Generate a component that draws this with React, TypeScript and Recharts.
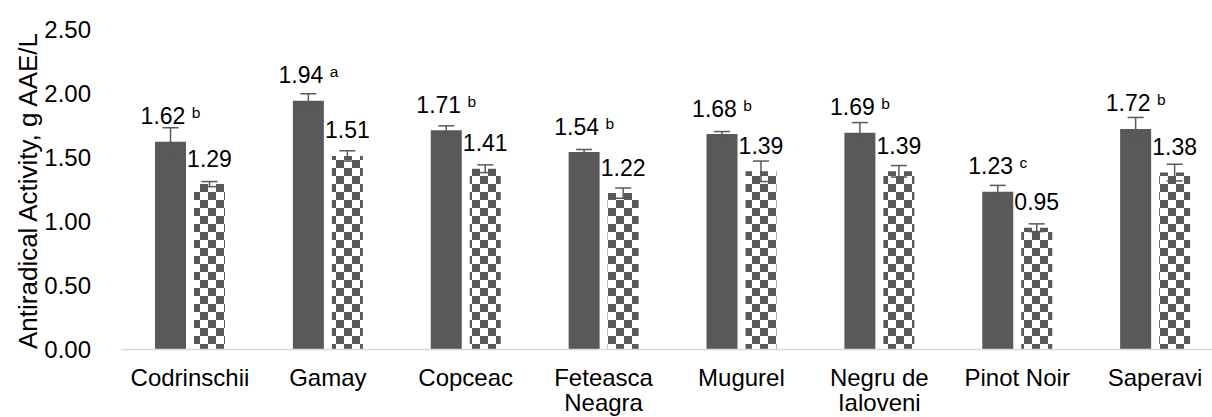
import React from "react";
import { BarChart, Bar, XAxis, YAxis, ErrorBar, LabelList } from "recharts";

const categories = ["Codrinschii", "Gamay", "Copceac", "Feteasca Neagra", "Mugurel", "Negru de Ialoveni", "Pinot Noir", "Saperavi"];
const solidValues = [1.62, 1.94, 1.71, 1.54, 1.68, 1.69, 1.23, 1.72];
const solidErrors = [0.11, 0.055, 0.035, 0.02, 0.02, 0.08, 0.05, 0.09];
const letters = ["b", "a", "b", "b", "b", "b", "c", "b"];
const checkValues = [1.29, 1.51, 1.41, 1.22, 1.39, 1.39, 0.95, 1.38];
const checkErrors = [0.02, 0.04, 0.03, 0.04, 0.08, 0.045, 0.03, 0.065];
const yTicks = [0, 0.5, 1, 1.5, 2, 2.5];
const yTitle = "Antiradical Activity, g AAE/L";

const data = categories.map((name, i) => ({
  name,
  solid: solidValues[i],
  solidErr: solidErrors[i],
  letter: letters[i],
  check: checkValues[i],
  checkErr: checkErrors[i],
}));

const FONT = '"Liberation Sans", Arial, sans-serif';
const GRAY = "#595959";
const CAT_FONT = 24;

let measureCtx: CanvasRenderingContext2D | null = null;
function measure(s: string): number {
  if (!measureCtx) {
    const c = document.createElement("canvas");
    measureCtx = c.getContext("2d");
  }
  if (!measureCtx) return s.length * CAT_FONT * 0.5;
  measureCtx.font = `${CAT_FONT}px "Liberation Sans", Arial, sans-serif`;
  return measureCtx.measureText(s).width;
}

function wrap(s: string, maxW: number): string[] {
  const words = s.split(" ");
  const lines: string[] = [];
  let cur = "";
  for (const w of words) {
    const t = cur ? cur + " " + w : w;
    if (cur && measure(t) > maxW) {
      lines.push(cur);
      cur = w;
    } else {
      cur = t;
    }
  }
  if (cur) lines.push(cur);
  return lines;
}

const solidLabel = (props: any) => {
  const { x, y, width, value, index } = props;
  return (
    <text x={x + width / 2} y={y - 17.5} textAnchor="middle" fontSize={23} fontFamily={FONT} fill="#000">
      {`${Number(value).toFixed(2)} `}
      <tspan fontSize={15.5} dy={-6}>{letters[index]}</tspan>
    </text>
  );
};

const checkLabel = (props: any) => {
  const { x, y, width, value } = props;
  return (
    <text x={x + width / 2} y={y - 17.5} textAnchor="middle" fontSize={23} fontFamily={FONT} fill="#000">
      {Number(value).toFixed(2)}
    </text>
  );
};

const XTick = (props: any) => {
  const { x, y, payload } = props;
  const lines = wrap(String(payload.value), 130);
  return (
    <text x={x} y={y + 36} textAnchor="middle" fontSize={CAT_FONT} fontFamily={FONT} fill="#000">
      {lines.map((l, i) => (
        <tspan key={i} x={x} dy={i === 0 ? 0 : 25.5}>
          {l}
        </tspan>
      ))}
    </text>
  );
};

export default function App() {
  return (
    <div style={{ position: "fixed", left: 0, top: 0, width: 1212, height: 417, overflow: "hidden", background: "#fff" }}>
      <BarChart
        width={1240}
        height={417}
        data={data}
        margin={{ top: 29, right: 16, bottom: 7.5, left: 0 }}
        barSize={31}
        barGap={8}
      >
        <defs>
          <pattern id="checker" width="16" height="16" patternUnits="userSpaceOnUse">
            <rect x="0" y="0" width="16" height="16" fill="#fff" />
            <rect x="0" y="0" width="8" height="8" fill={GRAY} />
            <rect x="8" y="8" width="8" height="8" fill={GRAY} />
          </pattern>
        </defs>
        <XAxis
          dataKey="name"
          height={60}
          tickLine={false}
          tickSize={0}
          tickMargin={0}
          axisLine={{ stroke: "#d9d9d9", strokeWidth: 1.5 }}
          tick={<XTick />}
          interval={0}
        />
        <YAxis
          width={121}
          domain={[0, 2.5]}
          ticks={yTicks}
          tickFormatter={(v: number) => v.toFixed(2)}
          axisLine={false}
          tickLine={false}
          tickSize={0}
          tickMargin={30}
          tick={{ fontSize: 24, fontFamily: FONT, fill: "#000" }}
          label={{
            content: () => (
              <text
                x={28}
                y={191}
                transform="rotate(-90 28 191)"
                textAnchor="middle"
                dominantBaseline="central"
                fontSize={26}
                fontFamily={FONT}
                fill="#000"
              >
                {yTitle}
              </text>
            ),
          }}
        />
        <Bar dataKey="solid" fill={GRAY} isAnimationActive={false}>
          <ErrorBar dataKey="solidErr" width={8} stroke={GRAY} strokeWidth={1.5} direction="y" />
          <LabelList dataKey="solid" content={solidLabel} />
        </Bar>
        <Bar dataKey="check" fill="url(#checker)" isAnimationActive={false}>
          <ErrorBar dataKey="checkErr" width={8} stroke={GRAY} strokeWidth={1.5} direction="y" />
          <LabelList dataKey="check" content={checkLabel} />
        </Bar>
      </BarChart>
    </div>
  );
}
